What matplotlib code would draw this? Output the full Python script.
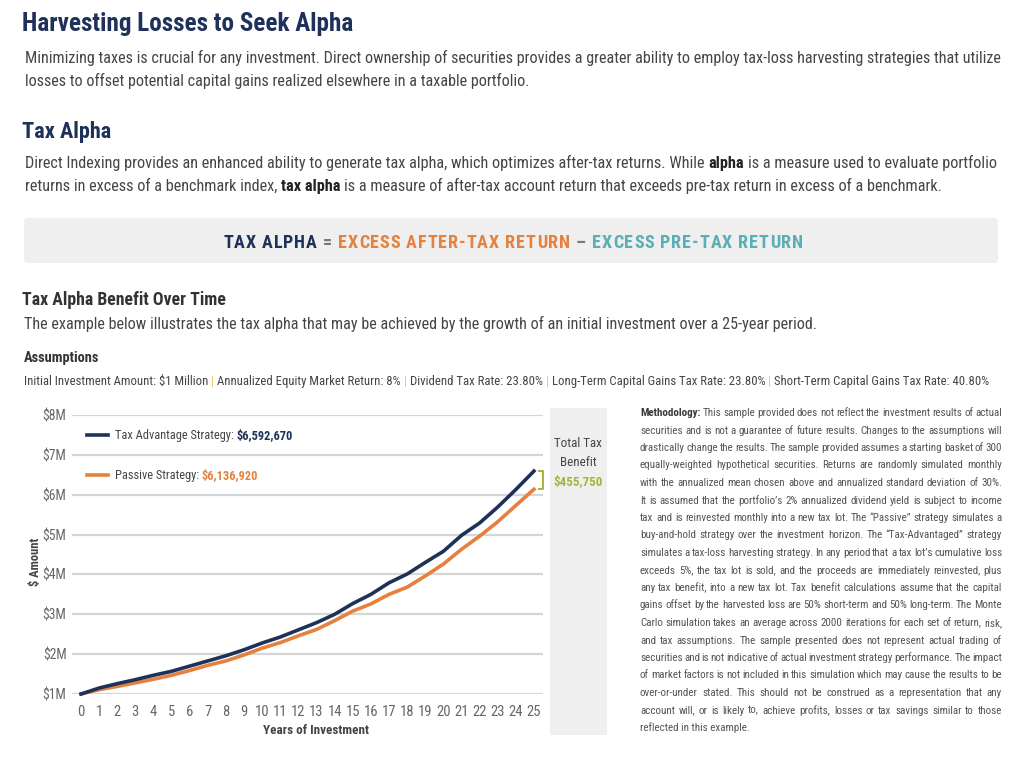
import matplotlib
matplotlib.use("Agg")
import matplotlib.pyplot as plt
from matplotlib import font_manager
from matplotlib.patches import FancyBboxPatch, Rectangle

# ---- data ($ millions) ----
years = list(range(26))
tax_advantage = [1.00, 1.15, 1.26, 1.36, 1.47, 1.57, 1.70, 1.83, 1.96, 2.11,
                 2.28, 2.43, 2.61, 2.79, 3.00, 3.27, 3.50, 3.79, 4.01, 4.30,
                 4.58, 4.98, 5.29, 5.69, 6.13, 6.592670]
passive = [1.00, 1.11, 1.19, 1.28, 1.37, 1.47, 1.59, 1.72, 1.83, 1.98,
           2.15, 2.29, 2.46, 2.62, 2.84, 3.08, 3.26, 3.50, 3.68, 3.96,
           4.26, 4.63, 4.96, 5.32, 5.73, 6.136920]
y_ticks = [1, 2, 3, 4, 5, 6, 7, 8]
y_tick_labels = ["$1M", "$2M", "$3M", "$4M", "$5M", "$6M", "$7M", "$8M"]

assumptions = ["Initial Investment Amount: $1 Million",
               "Annualized Equity Market Return: 8%",
               "Dividend Tax Rate: 23.80%",
               "Long-Term Capital Gains Tax Rate: 23.80%",
               "Short-Term Capital Gains Tax Rate: 40.80%"]

methodology = [
    "**Methodology:** This sample provided does not reflect the investment results of actual",
    "securities and is not a guarantee of future results. Changes to the assumptions will",
    "drastically change the results. The sample provided assumes a starting basket of 300",
    "equally-weighted hypothetical securities. Returns are randomly simulated monthly",
    "with the annualized mean chosen above and annualized standard deviation of 30%.",
    "It is assumed that the portfolio\u2019s 2% annualized dividend yield is subject to income",
    "tax and is reinvested monthly into a new tax lot. The \u201cPassive\u201d strategy simulates a",
    "buy-and-hold strategy over the investment horizon. The \u201cTax-Advantaged\u201d strategy",
    "simulates a tax-loss harvesting strategy. In any period that a tax lot\u2019s cumulative loss",
    "exceeds 5%, the tax lot is sold, and the proceeds are immediately reinvested, plus",
    "any tax benefit, into a new tax lot. Tax benefit calculations assume that the capital",
    "gains offset by the harvested loss are 50% short-term and 50% long-term. The Monte",
    "Carlo simulation takes an average across 2000 iterations for each set of return, risk,",
    "and tax assumptions. The sample presented does not represent actual trading of",
    "securities and is not indicative of actual investment strategy performance. The impact",
    "of market factors is not included in this simulation which may cause the results to be",
    "over-or-under stated. This should not be construed as a representation that any",
    "account will, or is likely to, achieve profits, losses or tax savings similar to those",
    "reflected in this example.",
]

navy = "#1e3159"
orange = "#e5813f"
teal = "#5aaeb6"
green = "#a6b43c"
body = "#454545"
light = "#555555"
panel = "#efefef"

available = {f.name for f in font_manager.fontManager.ttflist}
FONT = "DejaVu Sans"
for cand in ["Liberation Sans Narrow", "Roboto Condensed", "Open Sans Condensed",
             "Liberation Sans", "Roboto"]:
    if cand in available:
        FONT = cand
        break
plt.rcParams["font.family"] = [FONT, "DejaVu Sans"]

fig = plt.figure(figsize=(10.24, 7.68), dpi=100)
bg = fig.add_axes([0, 0, 1, 1])
bg.set_xlim(0, 1024)
bg.set_ylim(768, 0)
bg.axis("off")

renderer = fig.canvas.get_renderer()
probe = bg.text(0, 0, "")


def raw_width(s, size, weight):
    probe.set_text(s)
    probe.set_fontsize(size)
    probe.set_fontweight(weight)
    return probe.get_window_extent(renderer).width


def width(s, size, weight="normal"):
    # advance width, measured between two bars so side bearings don't count
    return raw_width("|" + s + "|", size, weight) - raw_width("||", size, weight)


def space_w(size, weight="normal"):
    return width(" ", size, weight)


def parse(s, color, bold_color=None):
    # words wrapped in ** ** are bold
    tokens = []
    for i, seg in enumerate(s.split("**")):
        bold = i % 2 == 1
        for w in seg.split():
            tokens.append((w, (bold_color or color) if bold else color,
                           "bold" if bold else "normal"))
    return tokens


def group(tokens):
    # join neighbouring words of the same style into one run
    runs = []
    for w, c, wt in tokens:
        if runs and runs[-1][1] == c and runs[-1][2] == wt:
            runs[-1] = (runs[-1][0] + " " + w, c, wt)
        else:
            runs.append((w, c, wt))
    return runs


def tok_w(word, size, weight, track):
    if track == 0:
        return width(word, size, weight)
    return sum(width(ch, size, weight) for ch in word) + track * (len(word) - 1)


def natural(tokens, size, track=0, space_scale=1.0):
    if track == 0 and space_scale == 1.0:
        tokens = group(tokens)
    ws = [tok_w(w, size, wt, track) for w, c, wt in tokens]
    return sum(ws) + (space_w(size) * space_scale + 2 * track) * (len(tokens) - 1)


def fit(tokens, target, base=10, track=0, space_scale=1.0):
    size = base * target / natural(tokens, base, track, space_scale)
    return size * target / natural(tokens, size, track, space_scale)


def draw_line(x, y, tokens, size, ha="left", justify=None, track=0):
    if justify is None and track == 0:
        tokens = group(tokens)
    ws = [tok_w(w, size, wt, track) for w, c, wt in tokens]
    gap = space_w(size) + 2 * track
    if justify is not None and len(tokens) > 1:
        gap = (justify - sum(ws)) / (len(tokens) - 1)
    total = sum(ws) + gap * (len(tokens) - 1)
    if ha == "center":
        x -= total / 2
    elif ha == "right":
        x -= total
    cx = x
    for (w, c, wt), tw in zip(tokens, ws):
        if track == 0:
            bg.text(cx, y, w, color=c, fontsize=size, fontweight=wt,
                    va="baseline", ha="left")
        else:
            px = cx
            for ch in w:
                bg.text(px, y, ch, color=c, fontsize=size, fontweight=wt,
                        va="baseline", ha="left")
                px += width(ch, size, wt) + track
        cx += tw + gap


# ---- header ----
t = parse("**Harvesting Losses to Seek Alpha**", navy, navy)
draw_line(22, 31, t, fit(t, 331))

p1 = ["Minimizing taxes is crucial for any investment. Direct ownership of securities provides a greater ability to employ tax-loss harvesting strategies that utilize",
      "losses to offset potential capital gains realized elsewhere in a taxable portfolio."]
s = fit(parse(p1[0], body), 972)
draw_line(25, 63, parse(p1[0], body), s)
draw_line(25, 86, parse(p1[1], body), s)

t = parse("**Tax Alpha**", navy, navy)
draw_line(22, 138, t, fit(t, 89))

p2 = ["Direct Indexing provides an enhanced ability to generate tax alpha, which optimizes after-tax returns. While **alpha** is a measure used to evaluate portfolio",
      "returns in excess of a benchmark index, **tax alpha** is a measure of after-tax account return that exceeds pre-tax return in excess of a benchmark."]
s = fit(parse(p2[0], body, "#222222"), 974)
draw_line(25, 168, parse(p2[0], body, "#222222"), s)
draw_line(25, 191, parse(p2[1], body, "#222222"), s)

bg.add_patch(FancyBboxPatch((24, 218), 974, 45, boxstyle="round,pad=0,rounding_size=4",
                            facecolor=panel, edgecolor="none"))
formula = ([(w, navy, "bold") for w in "TAX ALPHA".split()] + [("=", "#777777", "bold")]
           + [(w, orange, "bold") for w in "EXCESS AFTER-TAX RETURN".split()]
           + [("\u2013", "#777777", "bold")]
           + [(w, teal, "bold") for w in "EXCESS PRE-TAX RETURN".split()])
fsize = 13
track = (580 - natural(formula, fsize, track=1e-9)) / (sum(len(w) - 1 for w, c, wt in formula) + 2 * (len(formula) - 1))
draw_line(513, 248, formula, fsize, ha="center", track=track)

t = parse("**Tax Alpha Benefit Over Time**", "#333333", "#333333")
draw_line(22, 305, t, fit(t, 204))
t = parse("The example below illustrates the tax alpha that may be achieved by the growth of an initial investment over a 25-year period.", body)
draw_line(24, 329, t, fit(t, 790))

t = parse("**Assumptions**", "#333333", "#333333")
draw_line(24, 362, t, fit(t, 75))
t = []
for i, a in enumerate(assumptions):
    if i:
        t.append(("|", "#f0c36a", "normal"))
    t += parse(a, body)
draw_line(24, 385, t, fit(t, 975))

# ---- chart ----
ax = fig.add_axes([72 / 1024, 1 - 694 / 768, (543 - 72) / 1024, (694 - 415) / 768])
ax.set_xlim(-0.5, 25.5)
ax.set_ylim(1, 8)
ax.plot(years, passive, color=orange, lw=2.6, clip_on=False, zorder=3)
ax.plot(years, tax_advantage, color=navy, lw=2.6, clip_on=False, zorder=4)
ax.set_yticks(y_ticks)
ax.set_yticklabels(y_tick_labels)
ax.set_xticks(years)
ax.grid(axis="y", color="#d6d6d6", lw=1.6)
ax.set_axisbelow(True)
for sp in ax.spines.values():
    sp.set_visible(False)
ax.tick_params(length=0, labelcolor="#666666", labelsize=9.8)
ax.tick_params(axis="x", labelsize=10.5, pad=8)
ax.tick_params(axis="y", pad=4)
ax.set_facecolor("none")

# benefit bracket between the two end values
xb0, xb1 = 25.27, 25.5
ax.plot([xb0, xb1, xb1, xb0], [tax_advantage[-1], tax_advantage[-1], passive[-1], passive[-1]],
        color=green, lw=1.4, clip_on=False)

t = parse("**Years of Investment**", "#444444", "#444444")
draw_line(316, 734, t, fit(t, 106), ha="center")
bg.text(35, 562, "$ Amount", rotation=90, ha="center", va="center", fontsize=9,
        fontweight="bold", color="#444444")

# legend
bg.plot([87, 108], [435, 435], color=navy, lw=2.6)
bg.plot([87, 108], [475, 475], color=orange, lw=2.6)
lt = parse("Tax Advantage Strategy: **$%s**" % f"{tax_advantage[-1] * 1e6:,.0f}", body, navy)
lsize = fit(lt, 177)
draw_line(115, 439, lt, lsize)
draw_line(115, 479, parse("Passive Strategy: **$%s**" % f"{passive[-1] * 1e6:,.0f}", body, orange), lsize)

# total tax benefit panel
bg.add_patch(Rectangle((550, 408), 57, 327, facecolor=panel, edgecolor="none", zorder=0))
draw_line(578, 447, parse("Total Tax", body), 9.4, ha="center")
draw_line(578, 466, parse("Benefit", body), 9.4, ha="center")
benefit = (tax_advantage[-1] - passive[-1]) * 1e6
draw_line(578, 485, parse("**$%s**" % f"{benefit:,.0f}", green, green), 9.4, ha="center")

# methodology (justified, word spacing allowed to tighten a bit)
mlines = [parse(l, light, "#3a3a3a") for l in methodology]
msize = min(fit(tk, 362, space_scale=0.6) for tk in mlines[:-1])
for i, tk in enumerate(mlines):
    y = 416 + i * 17.5
    draw_line(640, y, tk, msize, justify=None if i == len(mlines) - 1 else 362)

probe.set_text("")
fig.savefig("out.png", dpi=100)
